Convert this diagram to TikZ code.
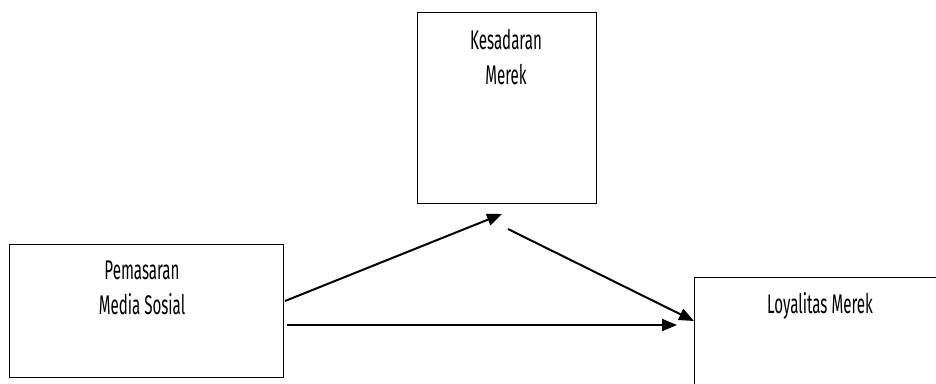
\documentclass[tikz,border=0pt]{standalone}
\usepackage{fontspec}
\setmainfont[FakeStretch=0.56]{Fira Sans}
\usetikzlibrary{arrows.meta}
\begin{document}
\begin{tikzpicture}[x=1pt,y=-1pt,
  box/.style={draw=black,line width=1pt},
  lbl/.style={font=\fontsize{27}{35}\selectfont,align=center,anchor=center,inner sep=0pt},
  link/.style={line width=2pt,-{Triangle[length=15pt,width=12pt]}}]
\useasboundingbox (0,0) rectangle (936,383);
% boxes
\draw[box] (417,12) rectangle (596,203);
\draw[box] (9,244) rectangle (283,377);
\draw[box] (936,277) -- (694,277) -- (694,390);
% labels
\node[lbl] (kes) at (506,57) {Kesadaran\\Merek};
\node[lbl] (pem) at (142,288) {Pemasaran\\Media Sosial};
\node[lbl] (loy) at (820,306) {Loyalitas Merek};
% connector end points
\coordinate (a1) at (285,301);
\coordinate (b1) at (502,214);
\coordinate (a2) at (508,229);
\coordinate (b2) at (694,321);
\coordinate (a3) at (287,325);
\coordinate (b3) at (677,325);
\draw[link] (a1) -- (b1);
\draw[link] (a2) -- (b2);
\draw[link] (a3) -- (b3);
\end{tikzpicture}
\end{document}
